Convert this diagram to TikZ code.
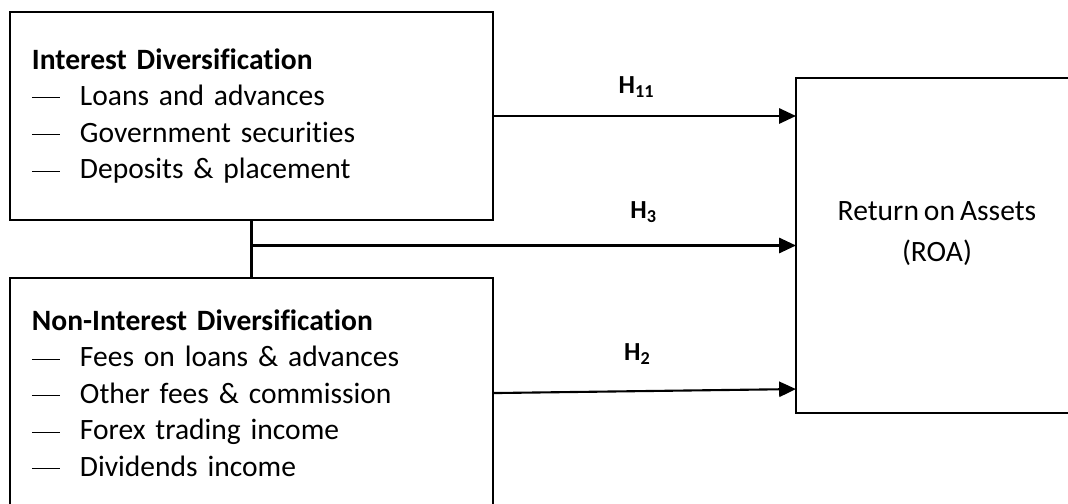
\documentclass[tikz,border=0pt]{standalone}
\usepackage{fontspec}
\setmainfont{Carlito}[Ligatures=NoCommon, WordSpace=0.75]
\usetikzlibrary{arrows.meta,positioning,calc}
\newcommand{\dashitem}[1]{\makebox[1.2cm][l]{\raisebox{0.25em}{\rule{0.7cm}{0.6pt}}}#1}
\tikzset{
    varBox/.style={
        rectangle,
        draw,
        line width=1.5pt,
        outer sep=0pt,
        minimum width=12.075cm,
        text width=10.975cm,
        inner xsep=0.55cm,
        align=left,
        font=\fontsize{21}{26}\selectfont
    },
    roaBox/.style={
        rectangle,
        draw,
        line width=1.5pt,
        outer sep=0pt,
        minimum width=7.05cm,
        minimum height=8.375cm
    },
    roaText/.style={align=center, font=\fontsize{21}{29}\selectfont}
}
\begin{document}
\begin{tikzpicture}[
    x=0.025cm, y=-0.025cm,
    arr/.style={-{Triangle[length=0.42cm, width=0.38cm]}, line width=1.5pt},
    hlabel/.style={font=\fontsize{18.5}{22}\selectfont\bfseries}
]
\useasboundingbox (0,0) rectangle (1068,504);

\node[varBox, minimum height=5.2cm] (intdiv) at (251.5,116) {%
    \textbf{Interest Diversification}\\
    \dashitem{Loans and advances}\\
    \dashitem{Government securities}\\
    \dashitem{Deposits \& placement}};
\node[varBox, minimum height=5.75cm, below=1.45cm of intdiv] (nonint) {%
    \textbf{Non-Interest Diversification}\\
    \dashitem{Fees on loans \& advances}\\
    \dashitem{Other fees \& commission}\\
    \dashitem{Forex trading income}\\
    \dashitem{Dividends income}};
\node[roaBox, label={[roaText, yshift=0.3cm]center:Return on Assets\\(ROA)}] (roa) at (937,245.5) {};

% joint effect
\draw[line width=1.5pt] (intdiv.south) -- (nonint.north);
\coordinate (junc) at (intdiv.south |- roa.west);

\draw[arr] (intdiv.east) -- (roa.west |- intdiv.east)
    node[hlabel, midway, xshift=-0.2cm, yshift=0.72cm] {H\textsubscript{11}};
\draw[arr] (junc) -- (roa.west)
    node[hlabel, pos=0.72, yshift=0.83cm] {H\textsubscript{3}};
\draw[arr] (nonint.east) -- ([yshift=0.1cm]roa.west |- nonint.east)
    node[hlabel, midway, xshift=-0.18cm, yshift=0.93cm] {H\textsubscript{2}};
\end{tikzpicture}
\end{document}
